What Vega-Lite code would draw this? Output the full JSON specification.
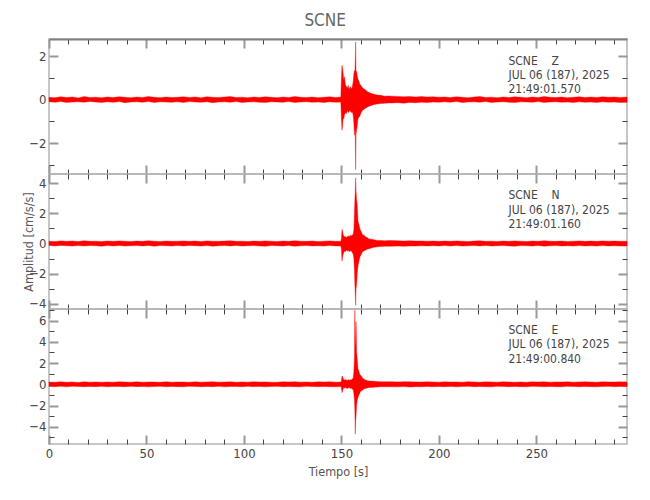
{
  "$schema": "https://vega.github.io/schema/vega-lite/v6.json",
  "padding": {"left": 21, "top": 12, "right": 5, "bottom": 5},
  "background": "white",
  "title": {"text": "SCNE", "anchor": "middle", "fontSize": 17, "font": "DejaVu Sans Condensed", "fontWeight": "normal", "color": "#666666", "offset": 7},
  "config": {
    "font": "DejaVu Sans Condensed",
    "view": {"stroke": "#b4b4b4", "strokeWidth": 1.5},
    "concat": {"spacing": 0},
    "text": {"font": "DejaVu Sans Condensed"},
    "axis": {
      "labelFont": "DejaVu Sans Condensed",
      "titleFont": "DejaVu Sans Condensed",
      "labelFontSize": 13, "titleFontSize": 12.5, "labelColor": "#444444", "titleColor": "#555555",
      "titleFontWeight": "normal", "domain": false, "grid": false, "labelOverlap": false, "labelFlush": false, "labelBound": false
    }
  },
  "bounds": "flush",
  "datasets": {
    "trace": [
      {"t":0,"zl":-0.10,"zh":0.11,"nl":-0.14,"nh":0.15,"el":-0.20,"eh":0.21},
      {"t":3,"zl":-0.12,"zh":0.09,"nl":-0.16,"nh":0.13,"el":-0.22,"eh":0.19},
      {"t":6,"zl":-0.09,"zh":0.13,"nl":-0.13,"nh":0.17,"el":-0.18,"eh":0.23},
      {"t":9,"zl":-0.13,"zh":0.10,"nl":-0.15,"nh":0.14,"el":-0.24,"eh":0.20},
      {"t":12,"zl":-0.11,"zh":0.12,"nl":-0.17,"nh":0.16,"el":-0.19,"eh":0.22},
      {"t":15,"zl":-0.10,"zh":0.08,"nl":-0.14,"nh":0.13,"el":-0.21,"eh":0.18},
      {"t":18,"zl":-0.12,"zh":0.14,"nl":-0.16,"nh":0.18,"el":-0.23,"eh":0.24},
      {"t":21,"zl":-0.08,"zh":0.10,"nl":-0.13,"nh":0.14,"el":-0.20,"eh":0.20},
      {"t":24,"zl":-0.11,"zh":0.11,"nl":-0.15,"nh":0.15,"el":-0.22,"eh":0.21},
      {"t":27,"zl":-0.13,"zh":0.09,"nl":-0.18,"nh":0.13,"el":-0.19,"eh":0.19},
      {"t":30,"zl":-0.10,"zh":0.12,"nl":-0.14,"nh":0.16,"el":-0.24,"eh":0.22},
      {"t":33,"zl":-0.12,"zh":0.10,"nl":-0.16,"nh":0.14,"el":-0.21,"eh":0.20},
      {"t":36,"zl":-0.09,"zh":0.13,"nl":-0.13,"nh":0.17,"el":-0.20,"eh":0.24},
      {"t":39,"zl":-0.14,"zh":0.11,"nl":-0.17,"nh":0.15,"el":-0.23,"eh":0.21},
      {"t":42,"zl":-0.11,"zh":0.09,"nl":-0.15,"nh":0.13,"el":-0.19,"eh":0.19},
      {"t":45,"zl":-0.10,"zh":0.12,"nl":-0.14,"nh":0.16,"el":-0.22,"eh":0.23},
      {"t":48,"zl":-0.12,"zh":0.10,"nl":-0.16,"nh":0.14,"el":-0.20,"eh":0.20},
      {"t":51,"zl":-0.09,"zh":0.14,"nl":-0.13,"nh":0.18,"el":-0.24,"eh":0.22},
      {"t":54,"zl":-0.13,"zh":0.11,"nl":-0.18,"nh":0.15,"el":-0.21,"eh":0.21},
      {"t":57,"zl":-0.10,"zh":0.09,"nl":-0.14,"nh":0.13,"el":-0.19,"eh":0.19},
      {"t":60,"zl":-0.11,"zh":0.12,"nl":-0.15,"nh":0.16,"el":-0.23,"eh":0.24},
      {"t":63,"zl":-0.12,"zh":0.10,"nl":-0.17,"nh":0.14,"el":-0.20,"eh":0.20},
      {"t":66,"zl":-0.10,"zh":0.11,"nl":-0.14,"nh":0.15,"el":-0.22,"eh":0.22},
      {"t":69,"zl":-0.13,"zh":0.13,"nl":-0.16,"nh":0.17,"el":-0.24,"eh":0.21},
      {"t":72,"zl":-0.09,"zh":0.10,"nl":-0.13,"nh":0.14,"el":-0.19,"eh":0.19},
      {"t":75,"zl":-0.11,"zh":0.12,"nl":-0.15,"nh":0.16,"el":-0.21,"eh":0.23},
      {"t":78,"zl":-0.12,"zh":0.09,"nl":-0.17,"nh":0.13,"el":-0.23,"eh":0.20},
      {"t":81,"zl":-0.10,"zh":0.13,"nl":-0.14,"nh":0.17,"el":-0.20,"eh":0.22},
      {"t":84,"zl":-0.14,"zh":0.11,"nl":-0.18,"nh":0.15,"el":-0.22,"eh":0.24},
      {"t":87,"zl":-0.11,"zh":0.10,"nl":-0.15,"nh":0.14,"el":-0.19,"eh":0.20},
      {"t":90,"zl":-0.10,"zh":0.12,"nl":-0.14,"nh":0.16,"el":-0.24,"eh":0.21},
      {"t":93,"zl":-0.12,"zh":0.14,"nl":-0.16,"nh":0.18,"el":-0.21,"eh":0.23},
      {"t":96,"zl":-0.09,"zh":0.10,"nl":-0.13,"nh":0.14,"el":-0.20,"eh":0.19},
      {"t":99,"zl":-0.13,"zh":0.11,"nl":-0.17,"nh":0.15,"el":-0.23,"eh":0.22},
      {"t":102,"zl":-0.11,"zh":0.09,"nl":-0.15,"nh":0.13,"el":-0.19,"eh":0.20},
      {"t":105,"zl":-0.10,"zh":0.12,"nl":-0.14,"nh":0.16,"el":-0.22,"eh":0.24},
      {"t":108,"zl":-0.12,"zh":0.10,"nl":-0.16,"nh":0.14,"el":-0.20,"eh":0.21},
      {"t":111,"zl":-0.13,"zh":0.13,"nl":-0.18,"nh":0.17,"el":-0.24,"eh":0.22},
      {"t":114,"zl":-0.10,"zh":0.11,"nl":-0.14,"nh":0.15,"el":-0.21,"eh":0.20},
      {"t":117,"zl":-0.11,"zh":0.09,"nl":-0.15,"nh":0.13,"el":-0.19,"eh":0.19},
      {"t":120,"zl":-0.12,"zh":0.12,"nl":-0.17,"nh":0.16,"el":-0.23,"eh":0.23},
      {"t":123,"zl":-0.09,"zh":0.10,"nl":-0.13,"nh":0.14,"el":-0.20,"eh":0.21},
      {"t":126,"zl":-0.13,"zh":0.14,"nl":-0.18,"nh":0.18,"el":-0.22,"eh":0.24},
      {"t":129,"zl":-0.11,"zh":0.11,"nl":-0.15,"nh":0.15,"el":-0.24,"eh":0.20},
      {"t":132,"zl":-0.10,"zh":0.10,"nl":-0.14,"nh":0.14,"el":-0.19,"eh":0.22},
      {"t":135,"zl":-0.12,"zh":0.12,"nl":-0.16,"nh":0.16,"el":-0.21,"eh":0.19},
      {"t":138,"zl":-0.11,"zh":0.09,"nl":-0.15,"nh":0.13,"el":-0.23,"eh":0.23},
      {"t":141,"zl":-0.13,"zh":0.11,"nl":-0.17,"nh":0.15,"el":-0.20,"eh":0.21},
      {"t":144,"zl":-0.10,"zh":0.13,"nl":-0.14,"nh":0.17,"el":-0.22,"eh":0.24},
      {"t":147,"zl":-0.12,"zh":0.10,"nl":-0.16,"nh":0.14,"el":-0.24,"eh":0.20},
      {"t":149.7,"zl":-0.11,"zh":0.12,"nl":-0.16,"nh":0.15,"el":-0.21,"eh":0.22},
      {"t":150.0,"zl":-0.9,"zh":1.0,"nl":-0.4,"nh":0.35,"el":-0.35,"eh":0.3},
      {"t":150.3,"zl":-1.41,"zh":1.58,"nl":-1.17,"nh":0.93,"el":-0.79,"eh":0.79},
      {"t":150.6,"zl":-1.2,"zh":1.45,"nl":-0.9,"nh":0.8,"el":-0.6,"eh":0.7},
      {"t":150.9,"zl":-0.8,"zh":1.2,"nl":-0.7,"nh":0.6,"el":-0.45,"eh":0.55},
      {"t":151.2,"zl":-0.9,"zh":0.9,"nl":-0.62,"nh":0.5,"el":-0.3,"eh":0.45},
      {"t":151.6,"zl":-0.7,"zh":1.05,"nl":-0.5,"nh":0.45,"el":-0.35,"eh":0.4},
      {"t":152.0,"zl":-0.6,"zh":0.7,"nl":-0.55,"nh":0.48,"el":-0.3,"eh":0.45},
      {"t":152.5,"zl":-0.65,"zh":0.6,"nl":-0.45,"nh":0.4,"el":-0.35,"eh":0.4},
      {"t":153.0,"zl":-0.5,"zh":0.55,"nl":-0.5,"nh":0.45,"el":-0.4,"eh":0.35},
      {"t":153.5,"zl":-0.6,"zh":0.65,"nl":-0.45,"nh":0.5,"el":-0.35,"eh":0.45},
      {"t":154.0,"zl":-0.55,"zh":0.45,"nl":-0.55,"nh":0.45,"el":-0.3,"eh":0.38},
      {"t":154.5,"zl":-0.5,"zh":0.6,"nl":-0.5,"nh":0.55,"el":-0.4,"eh":0.42},
      {"t":155.0,"zl":-0.6,"zh":0.5,"nl":-0.48,"nh":0.5,"el":-0.35,"eh":0.4},
      {"t":155.5,"zl":-0.55,"zh":0.55,"nl":-0.6,"nh":0.55,"el":-0.45,"eh":0.5},
      {"t":156.0,"zl":-0.7,"zh":0.8,"nl":-0.7,"nh":0.6,"el":-0.5,"eh":0.55},
      {"t":156.4,"zl":-1.1,"zh":1.2,"nl":-1.0,"nh":0.9,"el":-0.9,"eh":1.2},
      {"t":156.7,"zl":-1.64,"zh":1.35,"nl":-1.8,"nh":2.0,"el":-1.5,"eh":2.5},
      {"t":156.9,"zl":-1.3,"zh":1.2,"nl":-2.7,"nh":2.9,"el":-2.5,"eh":7.0},
      {"t":157.1,"zl":-1.5,"zh":1.7,"nl":-3.3,"nh":3.4,"el":-4.7,"eh":4.0},
      {"t":157.3,"zl":-3.22,"zh":2.65,"nl":-4.1,"nh":4.34,"el":-3.5,"eh":3.5},
      {"t":157.5,"zl":-1.6,"zh":1.3,"nl":-3.0,"nh":3.5,"el":-3.0,"eh":5.9},
      {"t":157.8,"zl":-1.4,"zh":1.3,"nl":-2.7,"nh":2.9,"el":-2.0,"eh":3.0},
      {"t":158.1,"zl":-1.2,"zh":1.1,"nl":-2.0,"nh":2.6,"el":-1.5,"eh":2.4},
      {"t":158.5,"zl":-0.9,"zh":0.95,"nl":-1.5,"nh":1.5,"el":-1.24,"eh":1.5},
      {"t":159.0,"zl":-0.8,"zh":0.85,"nl":-1.17,"nh":1.26,"el":-1.0,"eh":1.2},
      {"t":159.5,"zl":-0.75,"zh":0.7,"nl":-0.9,"nh":0.95,"el":-0.8,"eh":0.9},
      {"t":160.1,"zl":-0.6,"zh":0.65,"nl":-0.75,"nh":0.8,"el":-0.6,"eh":0.8},
      {"t":160.8,"zl":-0.5,"zh":0.55,"nl":-0.55,"nh":0.6,"el":-0.55,"eh":0.6},
      {"t":161.5,"zl":-0.45,"zh":0.5,"nl":-0.5,"nh":0.55,"el":-0.45,"eh":0.5},
      {"t":162.3,"zl":-0.4,"zh":0.45,"nl":-0.45,"nh":0.45,"el":-0.4,"eh":0.4},
      {"t":163.2,"zl":-0.35,"zh":0.38,"nl":-0.38,"nh":0.4,"el":-0.35,"eh":0.35},
      {"t":164.2,"zl":-0.3,"zh":0.33,"nl":-0.35,"nh":0.3,"el":-0.3,"eh":0.32},
      {"t":165.4,"zl":-0.27,"zh":0.28,"nl":-0.3,"nh":0.28,"el":-0.3,"eh":0.3},
      {"t":166.8,"zl":-0.22,"zh":0.25,"nl":-0.25,"nh":0.25,"el":-0.27,"eh":0.28},
      {"t":168.4,"zl":-0.2,"zh":0.21,"nl":-0.22,"nh":0.2,"el":-0.25,"eh":0.26},
      {"t":170.2,"zl":-0.18,"zh":0.2,"nl":-0.2,"nh":0.2,"el":-0.24,"eh":0.23},
      {"t":172.2,"zl":-0.17,"zh":0.16,"nl":-0.19,"nh":0.18,"el":-0.23,"eh":0.25},
      {"t":174.2,"zl":-0.15,"zh":0.17,"nl":-0.18,"nh":0.19,"el":-0.22,"eh":0.24},
      {"t":176,"zl":-0.15,"zh":0.16,"nl":-0.18,"nh":0.19,"el":-0.23,"eh":0.24},
      {"t":179,"zl":-0.14,"zh":0.15,"nl":-0.17,"nh":0.18,"el":-0.24,"eh":0.22},
      {"t":182,"zl":-0.16,"zh":0.13,"nl":-0.19,"nh":0.16,"el":-0.21,"eh":0.25},
      {"t":185,"zl":-0.13,"zh":0.15,"nl":-0.16,"nh":0.18,"el":-0.25,"eh":0.23},
      {"t":188,"zl":-0.14,"zh":0.12,"nl":-0.17,"nh":0.16,"el":-0.22,"eh":0.22},
      {"t":191,"zl":-0.12,"zh":0.14,"nl":-0.15,"nh":0.17,"el":-0.24,"eh":0.21},
      {"t":194,"zl":-0.13,"zh":0.12,"nl":-0.16,"nh":0.15,"el":-0.20,"eh":0.23},
      {"t":197,"zl":-0.11,"zh":0.13,"nl":-0.15,"nh":0.16,"el":-0.23,"eh":0.22},
      {"t":200,"zl":-0.12,"zh":0.11,"nl":-0.16,"nh":0.14,"el":-0.21,"eh":0.20},
      {"t":203,"zl":-0.10,"zh":0.12,"nl":-0.14,"nh":0.16,"el":-0.22,"eh":0.23},
      {"t":206,"zl":-0.12,"zh":0.10,"nl":-0.16,"nh":0.14,"el":-0.20,"eh":0.21},
      {"t":209,"zl":-0.09,"zh":0.13,"nl":-0.13,"nh":0.17,"el":-0.24,"eh":0.22},
      {"t":212,"zl":-0.13,"zh":0.11,"nl":-0.17,"nh":0.15,"el":-0.21,"eh":0.20},
      {"t":215,"zl":-0.11,"zh":0.09,"nl":-0.15,"nh":0.13,"el":-0.19,"eh":0.24},
      {"t":218,"zl":-0.10,"zh":0.12,"nl":-0.14,"nh":0.16,"el":-0.23,"eh":0.21},
      {"t":221,"zl":-0.12,"zh":0.14,"nl":-0.16,"nh":0.18,"el":-0.20,"eh":0.19},
      {"t":224,"zl":-0.09,"zh":0.10,"nl":-0.13,"nh":0.14,"el":-0.22,"eh":0.23},
      {"t":227,"zl":-0.13,"zh":0.11,"nl":-0.17,"nh":0.15,"el":-0.24,"eh":0.22},
      {"t":230,"zl":-0.11,"zh":0.09,"nl":-0.15,"nh":0.13,"el":-0.19,"eh":0.20},
      {"t":233,"zl":-0.10,"zh":0.12,"nl":-0.14,"nh":0.16,"el":-0.21,"eh":0.24},
      {"t":236,"zl":-0.12,"zh":0.10,"nl":-0.16,"nh":0.14,"el":-0.23,"eh":0.21},
      {"t":239,"zl":-0.13,"zh":0.13,"nl":-0.18,"nh":0.17,"el":-0.20,"eh":0.20},
      {"t":242,"zl":-0.10,"zh":0.11,"nl":-0.14,"nh":0.15,"el":-0.22,"eh":0.22},
      {"t":245,"zl":-0.11,"zh":0.09,"nl":-0.15,"nh":0.13,"el":-0.24,"eh":0.19},
      {"t":248,"zl":-0.12,"zh":0.12,"nl":-0.17,"nh":0.16,"el":-0.19,"eh":0.23},
      {"t":251,"zl":-0.09,"zh":0.10,"nl":-0.13,"nh":0.14,"el":-0.21,"eh":0.21},
      {"t":254,"zl":-0.13,"zh":0.14,"nl":-0.18,"nh":0.18,"el":-0.23,"eh":0.24},
      {"t":257,"zl":-0.11,"zh":0.11,"nl":-0.15,"nh":0.15,"el":-0.20,"eh":0.20},
      {"t":260,"zl":-0.10,"zh":0.10,"nl":-0.14,"nh":0.14,"el":-0.22,"eh":0.22},
      {"t":263,"zl":-0.12,"zh":0.12,"nl":-0.16,"nh":0.16,"el":-0.24,"eh":0.21},
      {"t":266,"zl":-0.11,"zh":0.09,"nl":-0.15,"nh":0.13,"el":-0.19,"eh":0.23},
      {"t":269,"zl":-0.13,"zh":0.11,"nl":-0.17,"nh":0.15,"el":-0.21,"eh":0.20},
      {"t":272,"zl":-0.10,"zh":0.13,"nl":-0.14,"nh":0.17,"el":-0.23,"eh":0.22},
      {"t":275,"zl":-0.12,"zh":0.10,"nl":-0.16,"nh":0.14,"el":-0.20,"eh":0.24},
      {"t":278,"zl":-0.11,"zh":0.12,"nl":-0.15,"nh":0.16,"el":-0.22,"eh":0.21},
      {"t":281,"zl":-0.13,"zh":0.10,"nl":-0.17,"nh":0.14,"el":-0.24,"eh":0.20},
      {"t":284,"zl":-0.10,"zh":0.13,"nl":-0.14,"nh":0.17,"el":-0.21,"eh":0.23},
      {"t":287,"zl":-0.12,"zh":0.11,"nl":-0.16,"nh":0.15,"el":-0.19,"eh":0.22},
      {"t":290,"zl":-0.11,"zh":0.12,"nl":-0.15,"nh":0.16,"el":-0.23,"eh":0.21},
      {"t":293,"zl":-0.13,"zh":0.10,"nl":-0.17,"nh":0.14,"el":-0.20,"eh":0.23},
      {"t":296.5,"zl":-0.12,"zh":0.12,"nl":-0.16,"nh":0.15,"el":-0.22,"eh":0.22}
    ],
    "notes": [
      {"panel":"Z","t":235.7,"a":1.79,"txt":"SCNE\u00a0\u00a0\u00a0\u00a0Z"},
      {"panel":"Z","t":235.7,"a":1.14,"txt":"JUL 06 (187), 2025"},
      {"panel":"Z","t":235.7,"a":0.47,"txt":"21:49:01.570"},
      {"panel":"N","t":235.7,"a":3.19,"txt":"SCNE\u00a0\u00a0\u00a0\u00a0N"},
      {"panel":"N","t":235.7,"a":2.22,"txt":"JUL 06 (187), 2025"},
      {"panel":"N","t":235.7,"a":1.28,"txt":"21:49:01.160"},
      {"panel":"E","t":235.7,"a":5.16,"txt":"SCNE\u00a0\u00a0\u00a0\u00a0E"},
      {"panel":"E","t":235.7,"a":3.84,"txt":"JUL 06 (187), 2025"},
      {"panel":"E","t":235.7,"a":2.42,"txt":"21:49:00.840"}
    ]
  },
  "vconcat": [
    {
      "width": 578, "height": 135,
      "layer": [
        {
          "data": {"name": "trace"},
          "mark": {"type": "area", "color": "#ff0000", "stroke": "#ff0000", "strokeWidth": 0.4},
          "encoding": {
            "x": {"field": "t", "type": "quantitative", "scale": {"domain": [0, 296.5], "nice": false, "zero": false},
              "axis": {"orient": "bottom", "values": [0,10,20,30,40,50,60,70,80,90,100,110,120,130,140,150,160,170,180,190,200,210,220,230,240,250,260,270,280,290], "labels": false, "title": null,
                "tickSize": {"condition": {"test": "datum.value % 50 === 0", "value": -9}, "value": -5},
                "tickColor": {"condition": {"test": "datum.value % 50 === 0", "value": "#999999"}, "value": "#444444"},
                "tickWidth": {"condition": {"test": "datum.value % 50 === 0", "value": 2}, "value": 1}}},
            "y": {"field": "zl", "type": "quantitative", "scale": {"domain": [-3.42, 2.79], "nice": false, "zero": false},
              "axis": {"orient": "left", "values": [-3,-2,-1,0,1,2], "labelExpr": "datum.value % 2 === 0 ? datum.label : ''", "title": null, "labelPadding": 12,
                "tickSize": {"condition": {"test": "datum.value % 2 === 0", "value": -9}, "value": -5},
                "tickColor": {"condition": {"test": "datum.value % 2 === 0", "value": "#999999"}, "value": "#444444"},
                "tickWidth": {"condition": {"test": "datum.value % 2 === 0", "value": 2}, "value": 1}}},
            "y2": {"field": "zh"}
          }
        },
        {
          "data": {"name": "notes"},
          "transform": [{"filter": "datum.panel === 'Z'"}],
          "mark": {"type": "text", "align": "left", "baseline": "middle", "fontSize": 12, "color": "#444444"},
          "encoding": {
            "x": {"field": "t", "type": "quantitative", "scale": {"domain": [0, 296.5], "nice": false, "zero": false},
              "axis": {"orient": "top", "values": [0,10,20,30,40,50,60,70,80,90,100,110,120,130,140,150,160,170,180,190,200,210,220,230,240,250,260,270,280,290], "labels": false, "title": null,
                "domain": true, "domainColor": "#808080", "domainWidth": 2,
                "tickSize": {"condition": {"test": "datum.value % 50 === 0", "value": -9}, "value": -5},
                "tickColor": {"condition": {"test": "datum.value % 50 === 0", "value": "#999999"}, "value": "#444444"},
                "tickWidth": {"condition": {"test": "datum.value % 50 === 0", "value": 2}, "value": 1}}},
            "y": {"field": "a", "type": "quantitative", "scale": {"domain": [-3.42, 2.79], "nice": false, "zero": false},
              "axis": {"orient": "right", "values": [-3,-2,-1,0,1,2], "labels": false, "title": null,
                "tickSize": {"condition": {"test": "datum.value % 2 === 0", "value": -9}, "value": -5},
                "tickColor": {"condition": {"test": "datum.value % 2 === 0", "value": "#999999"}, "value": "#444444"},
                "tickWidth": {"condition": {"test": "datum.value % 2 === 0", "value": 2}, "value": 1}}},
            "text": {"field": "txt"}
          }
        }
      ],
      "resolve": {"axis": {"x": "independent", "y": "independent"}}
    },
    {
      "width": 578, "height": 135,
      "layer": [
        {
          "data": {"name": "trace"},
          "mark": {"type": "area", "color": "#ff0000", "stroke": "#ff0000", "strokeWidth": 0.4},
          "encoding": {
            "x": {"field": "t", "type": "quantitative", "scale": {"domain": [0, 296.5], "nice": false, "zero": false},
              "axis": {"orient": "bottom", "values": [0,10,20,30,40,50,60,70,80,90,100,110,120,130,140,150,160,170,180,190,200,210,220,230,240,250,260,270,280,290], "labels": false, "title": null,
                "tickSize": {"condition": {"test": "datum.value % 50 === 0", "value": -9}, "value": -5},
                "tickColor": {"condition": {"test": "datum.value % 50 === 0", "value": "#999999"}, "value": "#444444"},
                "tickWidth": {"condition": {"test": "datum.value % 50 === 0", "value": 2}, "value": 1}}},
            "y": {"field": "nl", "type": "quantitative", "scale": {"domain": [-4.34, 4.6], "nice": false, "zero": false},
              "axis": {"orient": "left", "values": [-4,-3,-2,-1,0,1,2,3,4], "labelExpr": "datum.value % 2 === 0 ? datum.label : ''", "title": "Amplitud [cm/s/s]", "titlePadding": -6.5, "labelPadding": 12,
                "tickSize": {"condition": {"test": "datum.value % 2 === 0", "value": -9}, "value": -5},
                "tickColor": {"condition": {"test": "datum.value % 2 === 0", "value": "#999999"}, "value": "#444444"},
                "tickWidth": {"condition": {"test": "datum.value % 2 === 0", "value": 2}, "value": 1}}},
            "y2": {"field": "nh"}
          }
        },
        {
          "data": {"name": "notes"},
          "transform": [{"filter": "datum.panel === 'N'"}],
          "mark": {"type": "text", "align": "left", "baseline": "middle", "fontSize": 12, "color": "#444444"},
          "encoding": {
            "x": {"field": "t", "type": "quantitative", "scale": {"domain": [0, 296.5], "nice": false, "zero": false},
              "axis": {"orient": "top", "values": [0,10,20,30,40,50,60,70,80,90,100,110,120,130,140,150,160,170,180,190,200,210,220,230,240,250,260,270,280,290], "labels": false, "title": null,
                "tickSize": {"condition": {"test": "datum.value % 50 === 0", "value": -9}, "value": -5},
                "tickColor": {"condition": {"test": "datum.value % 50 === 0", "value": "#999999"}, "value": "#444444"},
                "tickWidth": {"condition": {"test": "datum.value % 50 === 0", "value": 2}, "value": 1}}},
            "y": {"field": "a", "type": "quantitative", "scale": {"domain": [-4.34, 4.6], "nice": false, "zero": false},
              "axis": {"orient": "right", "values": [-4,-3,-2,-1,0,1,2,3,4], "labels": false, "title": null,
                "tickSize": {"condition": {"test": "datum.value % 2 === 0", "value": -9}, "value": -5},
                "tickColor": {"condition": {"test": "datum.value % 2 === 0", "value": "#999999"}, "value": "#444444"},
                "tickWidth": {"condition": {"test": "datum.value % 2 === 0", "value": 2}, "value": 1}}},
            "text": {"field": "txt"}
          }
        }
      ],
      "resolve": {"axis": {"x": "independent", "y": "independent"}}
    },
    {
      "width": 578, "height": 135,
      "layer": [
        {
          "data": {"name": "trace"},
          "mark": {"type": "area", "color": "#ff0000", "stroke": "#ff0000", "strokeWidth": 0.4},
          "encoding": {
            "x": {"field": "t", "type": "quantitative", "scale": {"domain": [0, 296.5], "nice": false, "zero": false},
              "axis": {"orient": "bottom", "values": [0,10,20,30,40,50,60,70,80,90,100,110,120,130,140,150,160,170,180,190,200,210,220,230,240,250,260,270,280,290], "labelExpr": "datum.value % 50 === 0 ? datum.label : ''", "title": "Tiempo [s]", "titlePadding": 1, "labelPadding": 12,
                "tickSize": {"condition": {"test": "datum.value % 50 === 0", "value": -9}, "value": -5},
                "tickColor": {"condition": {"test": "datum.value % 50 === 0", "value": "#999999"}, "value": "#444444"},
                "tickWidth": {"condition": {"test": "datum.value % 50 === 0", "value": 2}, "value": 1}}},
            "y": {"field": "el", "type": "quantitative", "scale": {"domain": [-5.63, 7.1], "nice": false, "zero": false},
              "axis": {"orient": "left", "values": [-5,-4,-3,-2,-1,0,1,2,3,4,5,6,7], "labelExpr": "datum.value % 2 === 0 ? datum.label : ''", "title": null, "labelPadding": 12,
                "tickSize": {"condition": {"test": "datum.value % 2 === 0", "value": -9}, "value": -5},
                "tickColor": {"condition": {"test": "datum.value % 2 === 0", "value": "#999999"}, "value": "#444444"},
                "tickWidth": {"condition": {"test": "datum.value % 2 === 0", "value": 2}, "value": 1}}},
            "y2": {"field": "eh"}
          }
        },
        {
          "data": {"name": "notes"},
          "transform": [{"filter": "datum.panel === 'E'"}],
          "mark": {"type": "text", "align": "left", "baseline": "middle", "fontSize": 12, "color": "#444444"},
          "encoding": {
            "x": {"field": "t", "type": "quantitative", "scale": {"domain": [0, 296.5], "nice": false, "zero": false},
              "axis": {"orient": "top", "values": [0,10,20,30,40,50,60,70,80,90,100,110,120,130,140,150,160,170,180,190,200,210,220,230,240,250,260,270,280,290], "labels": false, "title": null,
                "tickSize": {"condition": {"test": "datum.value % 50 === 0", "value": -9}, "value": -5},
                "tickColor": {"condition": {"test": "datum.value % 50 === 0", "value": "#999999"}, "value": "#444444"},
                "tickWidth": {"condition": {"test": "datum.value % 50 === 0", "value": 2}, "value": 1}}},
            "y": {"field": "a", "type": "quantitative", "scale": {"domain": [-5.63, 7.1], "nice": false, "zero": false},
              "axis": {"orient": "right", "values": [-5,-4,-3,-2,-1,0,1,2,3,4,5,6,7], "labels": false, "title": null,
                "tickSize": {"condition": {"test": "datum.value % 2 === 0", "value": -9}, "value": -5},
                "tickColor": {"condition": {"test": "datum.value % 2 === 0", "value": "#999999"}, "value": "#444444"},
                "tickWidth": {"condition": {"test": "datum.value % 2 === 0", "value": 2}, "value": 1}}},
            "text": {"field": "txt"}
          }
        }
      ],
      "resolve": {"axis": {"x": "independent", "y": "independent"}}
    }
  ]
}
